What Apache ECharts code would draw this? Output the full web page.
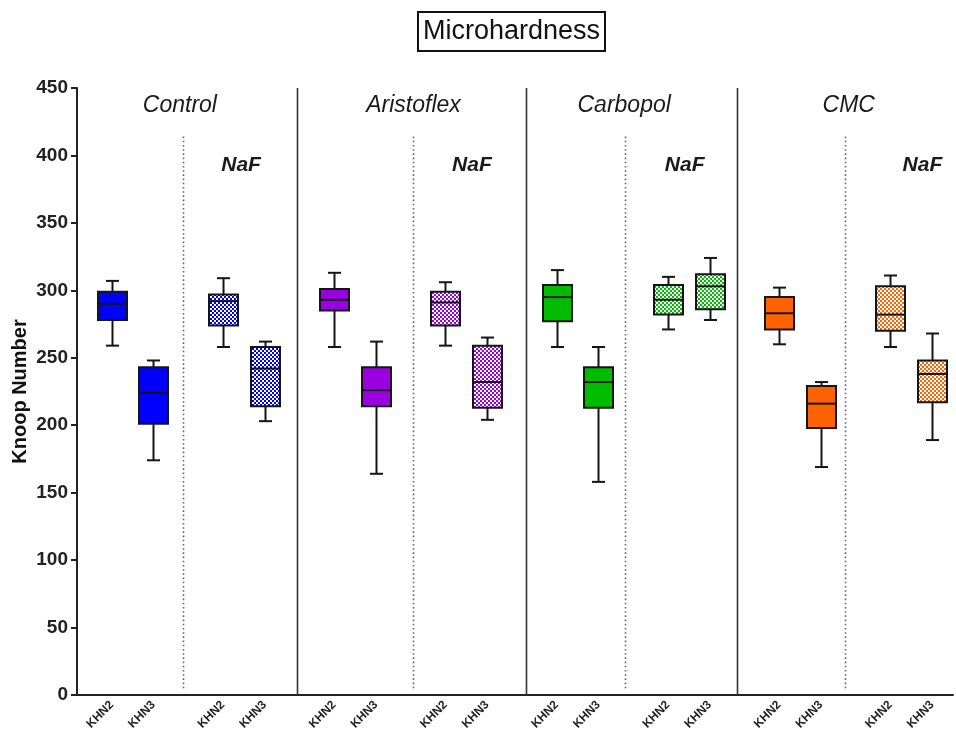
<!DOCTYPE html>
<html>
<head>
<meta charset="utf-8">
<script src="https://cdn.jsdelivr.net/npm/echarts@6/dist/echarts.min.js"></script>
<style>html,body{margin:0;padding:0;background:#fff}#c{width:956px;height:734px}</style>
</head>
<body>
<div id="c"></div>
<script>
// ---- data ----
const groups = ['Control', 'Aristoflex', 'Carbopol', 'CMC'];
const treatmentLabel = 'NaF';
const tickLabels = ['KHN2', 'KHN3'];
const yTicks = [0, 50, 100, 150, 200, 250, 300, 350, 400, 450];
// [min, Q1, median, Q3, max]
const controlKHN2 = [259, 278, 290, 299, 307];
const controlKHN3 = [174, 201, 224, 243, 248];
const controlNaFKHN2 = [258, 274, 292, 297, 309];
const controlNaFKHN3 = [203, 214, 242, 258, 262];
const aristoflexKHN2 = [258, 285, 293, 301, 313];
const aristoflexKHN3 = [164, 214, 226, 243, 262];
const aristoflexNaFKHN2 = [259, 274, 291, 299, 306];
const aristoflexNaFKHN3 = [204, 213, 232, 259, 265];
const carbopolKHN2 = [258, 277, 295, 304, 315];
const carbopolKHN3 = [158, 213, 232, 243, 258];
const carbopolNaFKHN2 = [271, 282, 293, 304, 310];
const carbopolNaFKHN3 = [278, 286, 303, 312, 324];
const cmcKHN2 = [260, 271, 283, 295, 302];
const cmcKHN3 = [169, 198, 216, 229, 232];
const cmcNaFKHN2 = [258, 270, 282, 303, 311];
const cmcNaFKHN3 = [189, 217, 238, 248, 268];

const boxSets = [
  [[controlKHN2, controlKHN3], [controlNaFKHN2, controlNaFKHN3]],
  [[aristoflexKHN2, aristoflexKHN3], [aristoflexNaFKHN2, aristoflexNaFKHN3]],
  [[carbopolKHN2, carbopolKHN3], [carbopolNaFKHN2, carbopolNaFKHN3]],
  [[cmcKHN2, cmcKHN3], [cmcNaFKHN2, cmcNaFKHN3]]
];

// ---- layout / style ----
const SLOT_OFFSET = 2, PAIR_STEP = 3, GROUP_STEP = 8, N_SLOTS = 63;
const colors = ['#0000ff', '#9b00e0', '#00bb00', '#ff6200'];
const FONT = 'Liberation Sans, Arial, sans-serif';
const solidDividers = [15.33, 31.8, 46.98];
const dottedDividers = [7.13, 23.67, 38.9, 54.75];
const groupLabelPos = [6.9, 23.7, 38.85, 55.0];
const naFLabelPos = [11.3, 27.9, 43.2, 60.3];

function makePattern(color) {
  const c = document.createElement('canvas');
  c.width = 4; c.height = 4;
  const ctx = c.getContext('2d');
  ctx.fillStyle = '#ffffff';
  ctx.fillRect(0, 0, 4, 4);
  ctx.fillStyle = color;
  ctx.fillRect(0, 0, 2, 2);
  ctx.fillRect(2, 2, 2, 2);
  return { image: c, repeat: 'repeat' };
}
const patterns = colors.map(makePattern);

const categories = [];
for (let i = 0; i < N_SLOTS; i++) categories.push('s' + i);
const labelAt = {};
const boxData = [];
boxSets.forEach((g, gi) => {
  g.forEach((pair, ni) => {
    pair.forEach((vals, ki) => {
      const idx = SLOT_OFFSET + (gi * 2 + ni) * GROUP_STEP + ki * PAIR_STEP;
      labelAt['s' + idx] = tickLabels[ki];
      boxData.push([idx].concat(vals, [gi, ni]));
    });
  });
});

function renderBox(params, api) {
  const x = api.value(0);
  const lo = api.coord([x, api.value(1)]);
  const q1 = api.coord([x, api.value(2)]);
  const med = api.coord([x, api.value(3)]);
  const q3 = api.coord([x, api.value(4)]);
  const hi = api.coord([x, api.value(5)]);
  const g = api.value(6), n = api.value(7);
  const cx = Math.round(lo[0]) + 0.5;
  const bw = 29, cw = 13;
  const ls = { stroke: '#151515', lineWidth: 2 };
  return {
    type: 'group',
    children: [
      { type: 'line', shape: { x1: cx, y1: hi[1], x2: cx, y2: q3[1] }, style: ls },
      { type: 'line', shape: { x1: cx, y1: q1[1], x2: cx, y2: lo[1] }, style: ls },
      { type: 'line', shape: { x1: cx - cw / 2, y1: hi[1], x2: cx + cw / 2, y2: hi[1] }, style: ls },
      { type: 'line', shape: { x1: cx - cw / 2, y1: lo[1], x2: cx + cw / 2, y2: lo[1] }, style: ls },
      { type: 'rect', shape: { x: cx - bw / 2, y: q3[1], width: bw, height: q1[1] - q3[1] },
        style: { fill: n ? patterns[g] : colors[g], stroke: '#151515', lineWidth: 2 } },
      { type: 'line', shape: { x1: cx - bw / 2, y1: med[1], x2: cx + bw / 2, y2: med[1] }, style: ls }
    ]
  };
}

const dividerData = solidDividers.map(p => [p, 0]).concat(dottedDividers.map(p => [p, 1]));
function renderDivider(params, api) {
  const x = api.value(0), dotted = api.value(1);
  const top = api.coord([x, dotted ? 414 : 450]);
  const bot = api.coord([x, dotted ? 3 : 0]);
  const px = Math.round(top[0]) + 0.5;
  return {
    type: 'line',
    shape: { x1: px, y1: top[1], x2: px, y2: bot[1] },
    style: dotted ? { stroke: '#666', lineWidth: 1.6, lineDash: [1.6, 2.6] } : { stroke: '#333', lineWidth: 1.6 }
  };
}

const textData = groups.map((g, i) => [groupLabelPos[i], 437, g, 0])
  .concat(groups.map((g, i) => [naFLabelPos[i], 393, treatmentLabel, 1]));
function renderText(params, api) {
  const d = textData[params.dataIndex];
  const p = api.coord([d[0], d[1]]);
  return {
    type: 'text',
    x: p[0], y: p[1],
    style: {
      text: d[2], align: 'center', verticalAlign: 'middle',
      fill: '#1a1a1a', fontFamily: FONT, fontStyle: 'italic',
      fontWeight: d[3] ? 'bold' : 'normal', fontSize: d[3] ? 21 : 23
    }
  };
}

const chart = echarts.init(document.getElementById('c'));
chart.setOption({
  animation: false,
  backgroundColor: '#ffffff',
  title: {
    text: 'Microhardness',
    left: 418, top: 12,
    padding: [6, 5, 6, 5],
    borderColor: '#111', borderWidth: 2,
    textStyle: { fontFamily: FONT, fontSize: 27, fontWeight: 'normal', color: '#111' }
  },
  grid: { left: 77, right: 3, top: 88, bottom: 39, outerBoundsMode: 'none', containLabel: false },
  xAxis: [{
    type: 'category',
    data: categories,
    boundaryGap: true,
    axisLine: { onZero: false, lineStyle: { color: '#222', width: 2 } },
    axisTick: { alignWithLabel: true, length: 6, lineStyle: { color: '#222', width: 2 },
      interval: (i, v) => !!labelAt[v] },
    axisLabel: { interval: (i, v) => !!labelAt[v], formatter: v => labelAt[v] || '',
      rotate: 45, fontSize: 12, fontWeight: 'bold', fontFamily: FONT, color: '#222', margin: 8 },
    splitLine: { show: false }
  }, {
    type: 'value', min: -0.5, max: N_SLOTS - 0.5, show: false,
    axisLine: { onZero: false }
  }],
  yAxis: {
    type: 'value', min: yTicks[0], max: yTicks[yTicks.length - 1], interval: yTicks[1] - yTicks[0],
    name: 'Knoop Number', nameLocation: 'middle', nameGap: 47, nameMoveOverlap: false,
    nameTextStyle: { fontFamily: FONT, fontSize: 20, fontWeight: 'bold', color: '#111' },
    axisLine: { show: true, onZero: false, lineStyle: { color: '#222', width: 2 } },
    axisTick: { show: true, length: 6, lineStyle: { color: '#222', width: 2 } },
    axisLabel: { fontFamily: FONT, fontSize: 19, fontWeight: 'bold', color: '#222', margin: 9 },
    splitLine: { show: false }
  },
  series: [
    { type: 'custom', xAxisIndex: 1, data: dividerData, renderItem: renderDivider, silent: true, z: 1 },
    { type: 'custom', xAxisIndex: 1, data: textData.map(d => [d[0], d[1]]), renderItem: renderText, silent: true, z: 3 },
    { type: 'custom', xAxisIndex: 0, data: boxData, renderItem: renderBox,
      encode: { x: 0, y: [1, 2, 3, 4, 5] }, z: 2 }
  ]
});
</script>
</body>
</html>
